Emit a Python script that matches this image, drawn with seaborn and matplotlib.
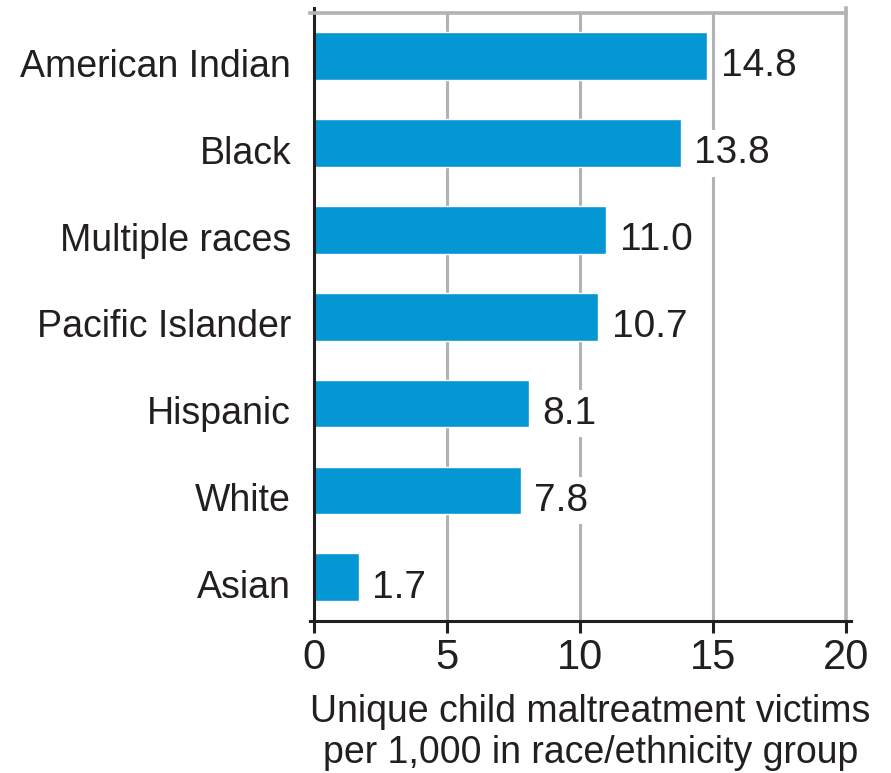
import matplotlib
matplotlib.use("Agg")
import matplotlib.pyplot as plt
import seaborn as sns
import pandas as pd
from matplotlib.transforms import ScaledTranslation

categories = ["American Indian", "Black", "Multiple races", "Pacific Islander",
              "Hispanic", "White", "Asian"]
rates = [14.8, 13.8, 11.0, 10.7, 8.1, 7.8, 1.7]
x_ticks = [0, 5, 10, 15, 20]
x_label = "Unique child maltreatment victims\nper 1,000 in race/ethnicity group"

sns.set_theme(style="white")
plt.rcParams["font.family"] = ["Liberation Sans", "DejaVu Sans"]

TEXT = "#231F20"
BAR = "#0497D4"
GRID = "#B2B2B4"

fig = plt.figure(figsize=(8.91, 7.73), dpi=100)
ax = fig.add_axes([0.3524, 0.197, 0.5968, 0.7866])

df = pd.DataFrame({"group": categories, "rate": rates})
sns.barplot(data=df, x="rate", y="group", orient="h", color=BAR,
            saturation=1, width=0.55, ax=ax, zorder=2)

ax.set_xlim(0, 20)
ax.set_ylim(6.5, -0.5)
ax.set_xticks(x_ticks)
ax.set_xticklabels([str(t) for t in x_ticks])

ax.set_axisbelow(True)
ax.xaxis.grid(True, color=GRID, lw=2.2)
ax.yaxis.grid(False)

ax.tick_params(axis="x", bottom=True, length=8.3, width=2.2, color=TEXT,
               pad=4.5, labelsize=30, labelcolor=TEXT, direction="out")
ax.tick_params(axis="y", left=False, length=0, pad=16.5, labelsize=27,
               labelcolor=TEXT)

ax.set_ylabel("")
ax.set_xlabel(x_label, fontsize=27, color=TEXT, linespacing=1.16)
ax.xaxis.set_label_coords(0.52, -0.121)

for side in ["left", "bottom"]:
    ax.spines[side].set_color(TEXT)
    ax.spines[side].set_linewidth(2.2)
for side in ["top", "right"]:
    ax.spines[side].set_color(GRID)
    ax.spines[side].set_linewidth(2.6)
    ax.spines[side].set_visible(True)
ax.spines["left"].set_visible(True)
ax.spines["bottom"].set_visible(True)
ax.spines["bottom"].set_bounds(-0.15, 20.19)
ax.spines["top"].set_bounds(-0.15, 20.0)
ax.spines["left"].set_bounds(6.5, -0.555)
ax.spines["right"].set_bounds(6.5, -0.55)

anns = ax.bar_label(ax.containers[0], fmt="%.1f", padding=9.4, fontsize=28,
                    color=TEXT, zorder=3,
                    bbox=dict(facecolor="white", edgecolor="none", pad=4))
for a in anns:
    a.set_va("baseline")
    a.xyann = (9.4, -14.6)

off = ScaledTranslation(0, -0.207, fig.dpi_scale_trans)
for lab in ax.get_yticklabels():
    lab.set_va("baseline")
    lab.set_transform(lab.get_transform() + off)

fig.savefig("out.png", dpi=100)
